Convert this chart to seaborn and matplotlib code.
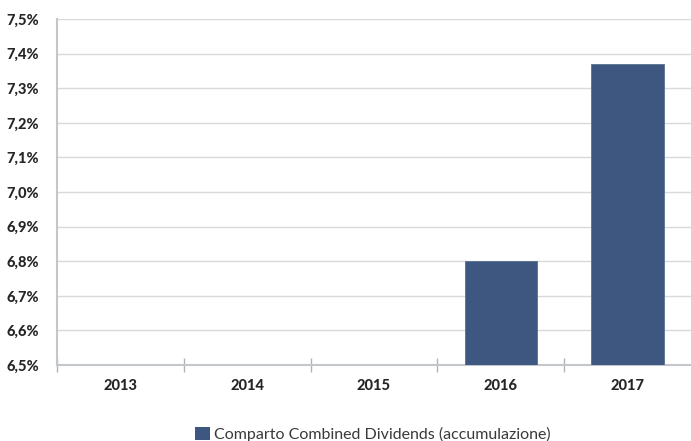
import numpy as np
import pandas as pd
import matplotlib
matplotlib.use('Agg')
import matplotlib.pyplot as plt
import seaborn as sns
from matplotlib.ticker import FixedLocator, FuncFormatter
from matplotlib.patches import Patch

anni = ['2013', '2014', '2015', '2016', '2017']
rendimento = [np.nan, np.nan, np.nan, 6.80, 7.37]
serie = 'Comparto Combined Dividends (accumulazione)'
colore = '#3d5780'

df = pd.DataFrame({'Anno': anni, 'Rendimento': rendimento})

sns.set_style('white')
plt.rcParams['font.family'] = ['Lato', 'DejaVu Sans']

fig = plt.figure(figsize=(6.91, 4.41), dpi=100)
ax = fig.add_axes([57 / 691, 76 / 441, 634 / 691, 346 / 441])

sns.barplot(data=df, x='Anno', y='Rendimento', order=anni, color=colore,
            width=0.57, saturation=1, edgecolor='#5a7090', linewidth=0.6, ax=ax, zorder=3)

ax.set_ylim(6.5, 7.5)
ax.set_xlim(-0.5, 4.5)
ax.set_yticks(np.arange(6.5, 7.51, 0.1))
ax.yaxis.set_major_formatter(FuncFormatter(lambda v, p: f'{v:.1f}%'.replace('.', ',')))
ax.grid(axis='y', color='#d9d9d9', linewidth=1, zorder=0)
ax.set_axisbelow(True)

for s in ['top', 'right']:
    ax.spines[s].set_visible(False)
for s in ['left', 'bottom']:
    ax.spines[s].set_color('#c3c6ca')
    ax.spines[s].set_linewidth(1.5)

ax.tick_params(axis='y', length=0, pad=13, labelsize=10.5)
ax.tick_params(axis='x', which='major', length=0, pad=10, labelsize=10.5)
ax.xaxis.set_minor_locator(FixedLocator([-0.5, 0.5, 1.5, 2.5, 3.5]))
ax.tick_params(axis='x', which='minor', bottom=True, direction='inout', length=10,
               width=1, color='#b0b4b8')
for lab in ax.get_xticklabels() + ax.get_yticklabels():
    lab.set_fontweight('black')
ax.set_xlabel('')
ax.set_ylabel('')

leg = fig.legend(handles=[Patch(facecolor=colore, edgecolor='none', label=serie)],
                 loc='lower center', bbox_to_anchor=(0.54, -0.035), frameon=False,
                 handlelength=0.9, handleheight=0.9, handletextpad=0.3,
                 prop={'family': ['Lato', 'DejaVu Sans'], 'weight': 'normal', 'size': 11.5})
for t in leg.get_texts():
    t.set_color('#3a3a3a')

fig.savefig('out.png', dpi=100)
